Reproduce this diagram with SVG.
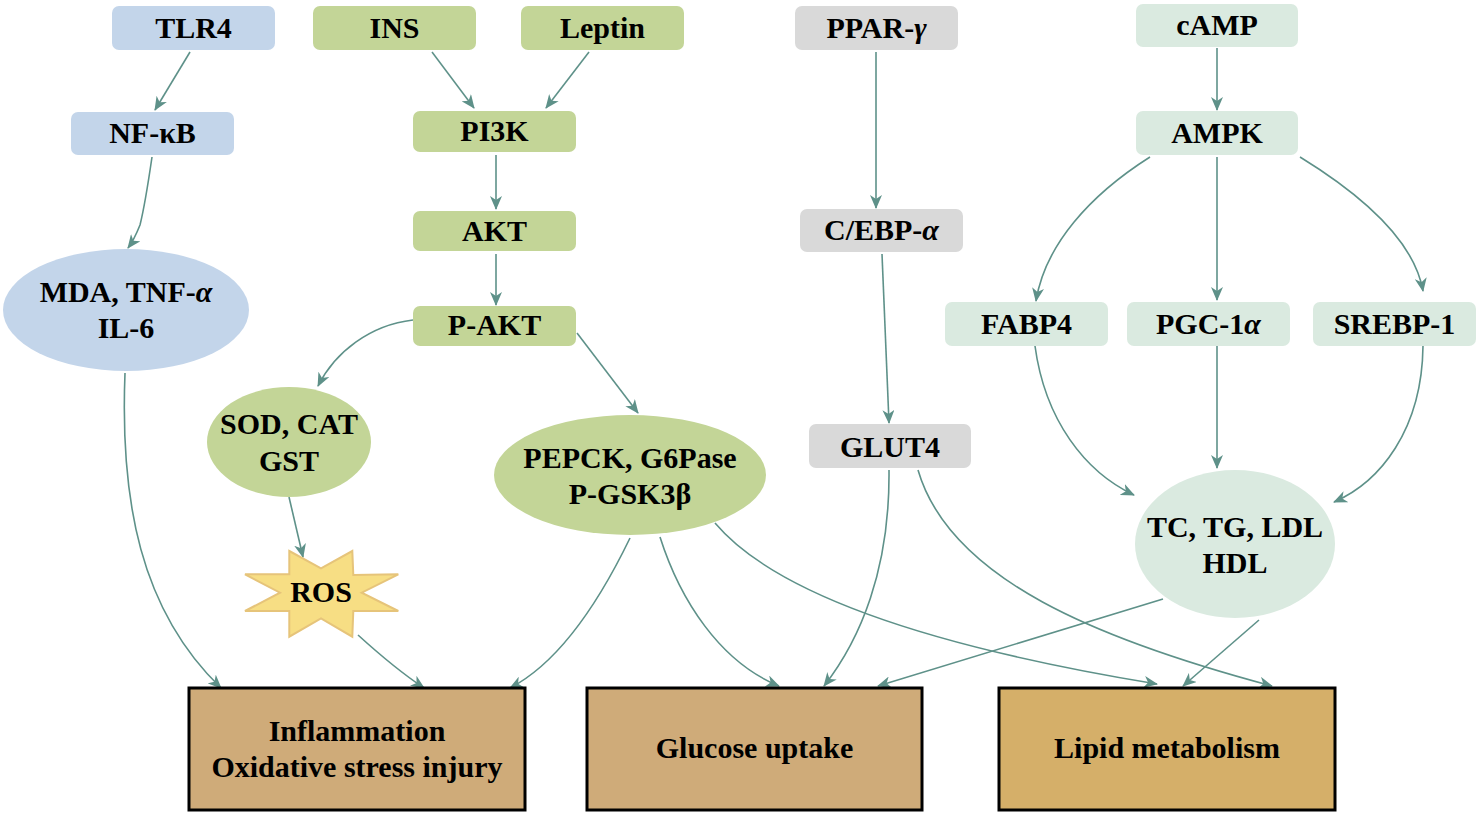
<svg xmlns="http://www.w3.org/2000/svg" width="1480" height="815" viewBox="0 0 1480 815">
<style>
text{font-family:'Liberation Serif','Times New Roman','DejaVu Serif',serif;font-weight:700;font-size:30px;fill:#000;text-anchor:middle}
.blue{fill:#c3d5ea}
.green{fill:#c3d597}
.gray{fill:#d9d9d9}
.mint{fill:#daeae0}
.tan{fill:#cfab79;stroke:#000;stroke-width:3}
.gold{fill:#d5af69;stroke:#000;stroke-width:3}
.c{fill:none;stroke:#5e9189;stroke-width:1.6;marker-end:url(#ah)}
.it{font-style:italic}
</style>
<defs>
<marker id="ah" viewBox="0 0 14 12" refX="13" refY="6" markerWidth="14" markerHeight="12" orient="auto" markerUnits="userSpaceOnUse">
<path d="M0,0 L14,6 L0,12 L4,6 z" fill="#5e9189"/>
</marker>
</defs>
<rect width="1480" height="815" fill="#fff"/>

<g id="connectors">
<path class="c" d="M190,52 L155,110"/>
<path class="c" d="M152,157 Q145,205 140,225 Q134,240 128,248"/>
<path class="c" d="M432,52 L474,108"/>
<path class="c" d="M589,52 L546,108"/>
<path class="c" d="M496,155 L496,209"/>
<path class="c" d="M496,254 L496,305"/>
<path class="c" d="M413,320 C370,325 335,352 318,386"/>
<path class="c" d="M577,333 L638,413"/>
<path class="c" d="M876,52 L876,208"/>
<path class="c" d="M882,254 L889,423"/>
<path class="c" d="M1217,48 L1217,110"/>
<path class="c" d="M1150,157 C1090,195 1045,245 1036,301"/>
<path class="c" d="M1217,157 L1217,300"/>
<path class="c" d="M1300,157 C1370,200 1415,245 1423,291"/>
<path class="c" d="M1035,346 C1045,420 1085,472 1134,495"/>
<path class="c" d="M1217,346 L1217,468"/>
<path class="c" d="M1423,346 C1422,430 1380,482 1334,502"/>
<path class="c" d="M125,373 C120,500 140,610 221,688"/>
<path class="c" d="M289,497 L303,557"/>
<path class="c" d="M358,635 C380,655 400,672 424,688"/>
<path class="c" d="M630,538 C600,600 560,662 510,688"/>
<path class="c" d="M660,537 C680,600 720,662 779,686"/>
<path class="c" d="M715,523 C780,600 950,650 1157,684"/>
<path class="c" d="M889,470 C890,570 860,640 824,686"/>
<path class="c" d="M918,470 C950,580 1100,640 1272,686"/>
<path class="c" d="M1163,599 L878,686"/>
<path class="c" d="M1259,620 L1183,686"/>
</g>

<g id="TLR4"><rect class="blue" x="112" y="6" width="163" height="44" rx="7"/><text x="193.5" y="38">TLR4</text></g>
<g id="INS"><rect class="green" x="313" y="6" width="163" height="44" rx="7"/><text x="394.5" y="38">INS</text></g>
<g id="Leptin"><rect class="green" x="521" y="6" width="163" height="44" rx="7"/><text x="602.5" y="38">Leptin</text></g>
<g id="PPARg"><rect class="gray" x="795" y="6" width="163" height="44" rx="7"/><text x="876.5" y="38">PPAR-<tspan class="it">γ</tspan></text></g>
<g id="cAMP"><rect class="mint" x="1136" y="4" width="162" height="43" rx="7"/><text x="1217" y="35">cAMP</text></g>
<g id="NFkB"><rect class="blue" x="71" y="112" width="163" height="43" rx="7"/><text x="152.5" y="143">NF-κB</text></g>
<g id="PI3K"><rect class="green" x="413" y="111" width="163" height="41" rx="7"/><text x="494.5" y="141">PI3K</text></g>
<g id="AKT"><rect class="green" x="413" y="211" width="163" height="40" rx="7"/><text x="494.5" y="241">AKT</text></g>
<g id="PAKT"><rect class="green" x="413" y="306" width="163" height="40" rx="7"/><text x="494.5" y="335">P-AKT</text></g>
<g id="CEBPa"><rect class="gray" x="800" y="209" width="163" height="43" rx="7"/><text x="881.5" y="240">C/EBP-<tspan class="it">α</tspan></text></g>
<g id="AMPK"><rect class="mint" x="1136" y="111" width="162" height="44" rx="7"/><text x="1217" y="143">AMPK</text></g>
<g id="FABP4"><rect class="mint" x="945" y="302" width="163" height="44" rx="7"/><text x="1026.5" y="334">FABP4</text></g>
<g id="PGC1a"><rect class="mint" x="1127" y="302" width="163" height="44" rx="7"/><text x="1208.5" y="334">PGC-1<tspan class="it">α</tspan></text></g>
<g id="SREBP1"><rect class="mint" x="1313" y="302" width="163" height="44" rx="7"/><text x="1394.5" y="334">SREBP-1</text></g>
<g id="GLUT4"><rect class="gray" x="809" y="424" width="162" height="44" rx="7"/><text x="890" y="457">GLUT4</text></g>

<g id="MDA"><ellipse class="blue" cx="126" cy="310" rx="123" ry="61"/><text x="126" y="302">MDA, TNF-<tspan class="it">α</tspan></text><text x="126" y="338">IL-6</text></g>
<g id="SOD"><ellipse class="green" cx="289" cy="442" rx="82" ry="55"/><text x="289" y="434">SOD, CAT</text><text x="289" y="471">GST</text></g>
<g id="PEPCK"><ellipse class="green" cx="630" cy="475" rx="136" ry="60"/><text x="630" y="468">PEPCK, G6Pase</text><text x="630" y="504">P-GSK3β</text></g>
<g id="TC"><ellipse class="mint" cx="1235" cy="544" rx="100" ry="74"/><text x="1235" y="537">TC, TG, LDL</text><text x="1235" y="573">HDL</text></g>
<g id="ROS"><polygon points="289.3,551 321,568.3 352.3,551 353.3,575 398.3,574.3 361.7,592.7 398.3,611 353.3,611 352.3,636.7 321,618.3 289.3,636.7 289.3,611 245,611 280,592.7 245,574.3 289.3,574.3" fill="#f7de84" stroke="#e6c47a" stroke-width="2"/><text x="321" y="602">ROS</text></g>

<g id="Inflammation"><rect class="tan" x="189" y="688" width="336" height="122"/><text x="357" y="741">Inflammation</text><text x="357" y="777">Oxidative stress injury</text></g>
<g id="Glucose"><rect class="tan" x="587" y="688" width="335" height="122"/><text x="754.5" y="758">Glucose uptake</text></g>
<g id="Lipid"><rect class="gold" x="999" y="688" width="336" height="122"/><text x="1167" y="758">Lipid metabolism</text></g>
</svg>
